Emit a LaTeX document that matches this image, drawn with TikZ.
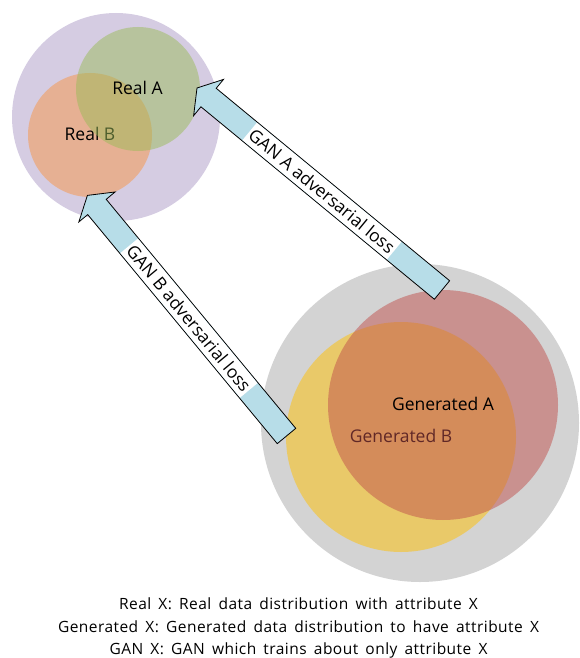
\documentclass[tikz,border=0pt]{standalone}
\usepackage{fontspec}
\setmainfont{Open Sans}
\newfontfamily\capfont[WordSpace=1.6, LetterSpace=3]{Open Sans}
\usetikzlibrary{calc}
\definecolor{purplebg}{RGB}{213,204,226}
\definecolor{greybg}{RGB}{211,211,211}
\definecolor{ggreen}{RGB}{155,187,89}
\definecolor{gorange}{RGB}{247,150,70}
\definecolor{gred}{RGB}{192,80,77}
\definecolor{ggold}{RGB}{255,192,0}
\definecolor{arrowblue}{RGB}{183,221,232}
\newcommand{\myblockarrow}[4]{%
  % #1 tail coordinate, #2 tip coordinate, #3 label node name, #4 label text
  \coordinate (#1h) at ($(#2)!15pt!(#1)$);
  \filldraw[blockarr]
    ($(#1)!12pt!90:(#2)$) -- ($(#1h)!12pt!90:(#2)$) -- ($(#1h)!23.5pt!90:(#2)$)
    -- (#2) -- ($(#1h)!23.5pt!-90:(#2)$) -- ($(#1h)!12pt!-90:(#2)$)
    -- ($(#1)!12pt!-90:(#2)$) -- cycle;
  \path (#1) -- (#2) node[arrlabel, pos=0.49] (#3) {#4};
}
\begin{document}
\begin{tikzpicture}[x=1pt,y=-1pt,
  blob/.style={circle, draw=none, inner sep=0pt, outer sep=0pt},
  lbl/.style={font=\fontsize{17.5}{20}\selectfont, anchor=base, inner sep=0pt},
  caption/.style={font=\capfont\fontsize{15.5}{20}\selectfont, anchor=base, inner sep=0pt},
  blockarr/.style={fill=arrowblue, draw=black, line width=0.8pt, line join=miter},
  arrlabel/.style={sloped, fill=white, font=\fontsize{17.5}{20}\selectfont,
    inner xsep=2pt, inner ysep=0pt, minimum height=22.5pt}
]
\useasboundingbox (0,0) rectangle (579,658);

% real distributions
\node[blob, fill=purplebg, minimum size=208pt] (realall) at (116,117) {};
\node[blob, fill=gorange, fill opacity=0.5, minimum size=124pt] (realB) at (90,135) {};
\node[lbl] (realBtxt) at (90,140) {Real B};
\node[blob, fill=ggreen, fill opacity=0.5, minimum size=124pt] (realA) at (138,89) {};
\node[lbl] (realAtxt) at (137.5,95) {Real A};

% generated distributions
\node[blob, fill=greybg, minimum size=318pt] (genall) at (420,423) {};
\node[blob, fill=ggold, fill opacity=0.5, minimum size=230pt] (genB) at (401,437) {};
\node[lbl] (genBtxt) at (401,442) {Generated B};
\node[blob, fill=gred, fill opacity=0.5, minimum size=230pt] (genA) at (443,405) {};
\node[lbl] (genAtxt) at (443,410) {Generated A};

% arrows
\coordinate (tailA) at (442,290);
\coordinate (tipA) at (197,88);
\coordinate (tailB) at (286.5,436);
\coordinate (tipB) at (87.4,195.4);
\myblockarrow{tailA}{tipA}{labA}{GAN A adversarial loss}
\myblockarrow{tailB}{tipB}{labB}{GAN B adversarial loss}

% caption
\node[caption] (cap1) at (298.5,609) {Real X: Real data distribution with attribute X};
\node[caption] (cap2) at (298.5,632) {Generated X: Generated data distribution to have attribute X};
\node[caption] (cap3) at (298.5,654.5) {GAN X: GAN which trains about only attribute X};
\end{tikzpicture}
\end{document}
